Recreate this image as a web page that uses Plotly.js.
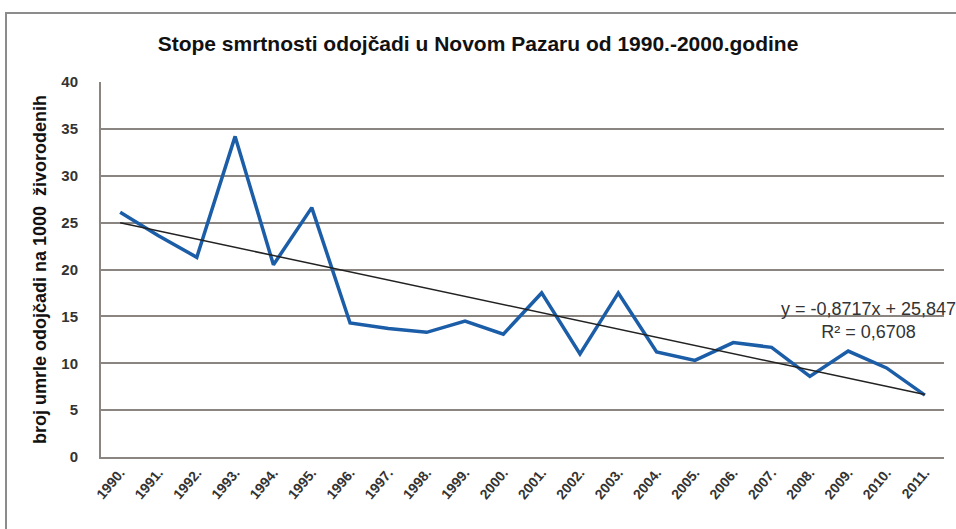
<!DOCTYPE html>
<html><head><meta charset="utf-8">
<script src="https://cdn.plot.ly/plotly-3.0.1.min.js"></script>
<style>
html,body{margin:0;padding:0;background:#fff;}
#wrap{position:relative;width:956px;height:529px;overflow:hidden;}
#chart{width:956px;height:529px;}
#frame{position:absolute;left:5px;top:12px;width:1000px;height:600px;border:2px solid #8c8c8c;pointer-events:none;}
</style></head>
<body><div id="wrap"><div id="chart"></div><div id="frame"></div></div>
<script>
const years = ['1990.','1991.','1992.','1993.','1994.','1995.','1996.','1997.','1998.','1999.','2000.','2001.','2002.','2003.','2004.','2005.','2006.','2007.','2008.','2009.','2010.','2011.'];
const rates = [26.1,23.6,21.3,34.2,20.5,26.6,14.3,13.7,13.3,14.5,13.1,17.5,11.0,17.5,11.2,10.3,12.2,11.7,8.6,11.3,9.5,6.6];
const trendX = ['1990.','2011.'];
const trendY = [24.98,6.67];
const yTicks = [0,5,10,15,20,25,30,35,40];

const traces = [
 {x: years, y: rates, type:'scatter', mode:'lines', line:{color:'#1c5da8', width:3.5}, hoverinfo:'skip'},
 {x: trendX, y: trendY, type:'scatter', mode:'lines', line:{color:'#222', width:1.5}, hoverinfo:'skip'}
];
const layout = {
 width:956, height:529,
 margin:{l:101, r:12, t:82, b:72},
 paper_bgcolor:'#fff', plot_bgcolor:'#fff',
 showlegend:false,
 font:{family:'Liberation Sans, Arial, sans-serif', color:'#333'},
 title:{text:'<b>Stope smrtnosti odojčadi u Novom Pazaru od 1990.-2000.godine</b>', x:0.5, xanchor:'center', y:0.917, yanchor:'middle', font:{size:21, color:'#111', family:'Liberation Sans Narrow, Liberation Sans, Arial, sans-serif'}},
 xaxis:{type:'category', categoryorder:'array', categoryarray:years, tickvals:years, ticktext:years.map(t=>'<b>'+t+'</b>'),
   tickangle:-50, tickfont:{size:14, color:'#333'}, showgrid:false, showline:true, linecolor:'#8a8580', linewidth:2,
   ticks:'', zeroline:false, range:[-0.5,21.5], fixedrange:true},
 yaxis:{range:[0,40], tickvals:yTicks, ticktext:yTicks.map(t=>'<b>'+t+'</b>'), tickfont:{size:15, color:'#333'},
   showgrid:true, gridcolor:'#8a8580', gridwidth:2, showline:true, linecolor:'#8a8580', linewidth:2,
   zeroline:false, ticks:'', ticklen:0, ticklabelstandoff:18,
   title:{text:'<b>broj umrle odojčadi na 1000  živorodenih</b>', font:{size:18, color:'#111'}, standoff:10}},
 annotations:[
  {xref:'paper', yref:'paper', x:0.91, y:0.363, xanchor:'center', yanchor:'middle', showarrow:false,
   text:'y = -0,8717x + 25,847<br>R² = 0,6708', font:{size:18, color:'#333'}, align:'center'}
 ]
};
Plotly.newPlot('chart', traces, layout, {staticPlot:true, displayModeBar:false});
</script></body></html>
